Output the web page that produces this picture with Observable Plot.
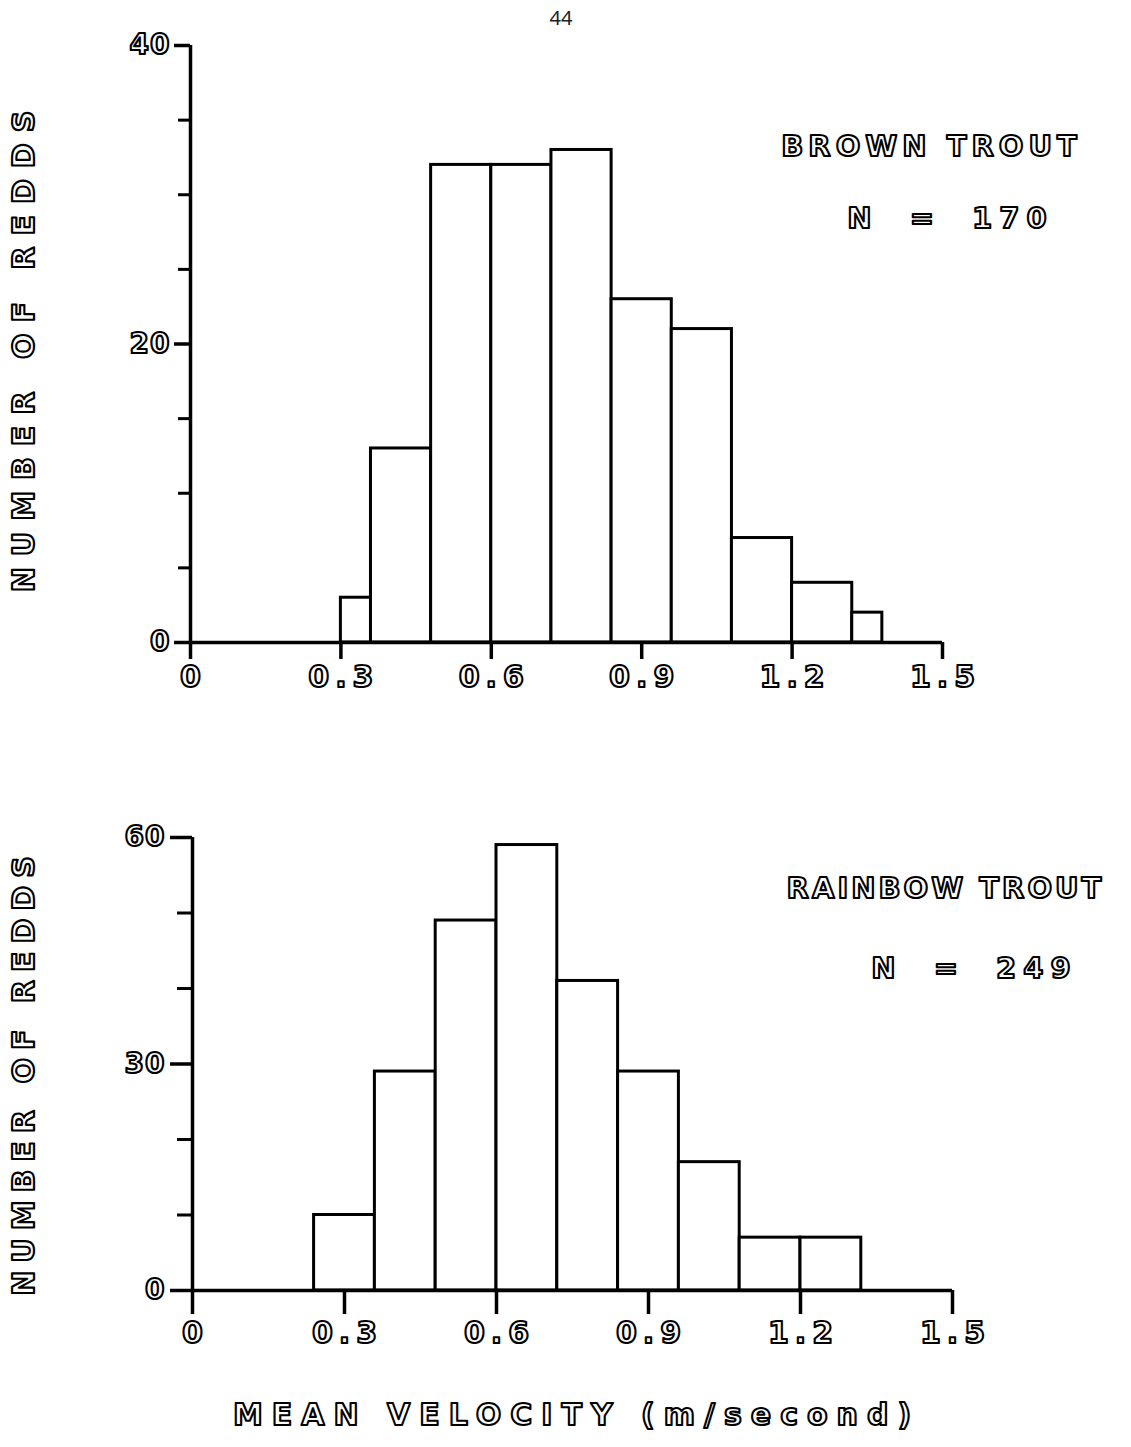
<!DOCTYPE html>
<html><head><meta charset="utf-8">
<script src="https://cdn.jsdelivr.net/npm/d3@7"></script>
<script src="https://cdn.jsdelivr.net/npm/@observablehq/plot@0.6"></script>
<style>
html,body{margin:0;padding:0;background:#fff;}
#page{position:relative;width:1131px;height:1447px;overflow:hidden;background:#fff;}
#pnum{position:absolute;left:0;width:1122px;top:4px;text-align:center;font:20px "Noto Sans",sans-serif;color:#222;z-index:5;}
#top{position:absolute;left:0;top:0;}
#bottom{position:absolute;left:0;top:720px;}
</style></head><body>
<div id="page"><div id="top"></div><div id="bottom"></div><div id="pnum">44</div></div>
<script>
// ---- data ----
const xTicks = [0, 0.3, 0.6, 0.9, 1.2, 1.5];

const brownLo    = [0.30, 0.36, 0.48, 0.60, 0.72, 0.84, 0.96, 1.08, 1.20, 1.32];
const brownHi    = [0.36, 0.48, 0.60, 0.72, 0.84, 0.96, 1.08, 1.20, 1.32, 1.38];
const brownCount = [3, 13, 32, 32, 33, 23, 21, 7, 4, 2];
const brownYTicks = [0, 20, 40];
const brownYMinor = [5, 10, 15, 25, 30, 35];

const rainbowLo    = [0.24, 0.36, 0.48, 0.60, 0.72, 0.84, 0.96, 1.08, 1.20];
const rainbowHi    = [0.36, 0.48, 0.60, 0.72, 0.84, 0.96, 1.08, 1.20, 1.32];
const rainbowCount = [10, 29, 49, 59, 41, 29, 17, 7, 7];
const rainbowYTicks = [0, 30, 60];
const rainbowYMinor = [10, 20, 40, 50];

const yTitle = "NUMBER OF REDDS";
const xTitle = "MEAN VELOCITY (m/second)";
const brownName = "BROWN TROUT", brownN = "N = 170";
const rainbowName = "RAINBOW TROUT", rainbowN = "N = 249";

function chart(cfg) {
  const bins = cfg.lo.map((lo, i) => ({lo, hi: cfg.hi[i], count: cfg.count[i]}));
  const hollow = {fontFamily: "DejaVu Sans", fontWeight: "bold", fill: "white", stroke: "black", strokeWidth: 2.1, lineAnchor: "middle"};
  const marks = [
    Plot.rectY(bins, {x1: "lo", x2: "hi", y: "count", fill: "white", stroke: "black", strokeWidth: 3}),
    Plot.axisX({ticks: xTicks, tickSize: cfg.xTick, strokeWidth: 3.5, fill: "none", tickFormat: () => "", label: null}),
    Plot.axisY({ticks: cfg.yTicks, tickSize: cfg.yTick, strokeWidth: 3.5, fill: "none", tickFormat: () => "", label: null}),
    Plot.axisY({ticks: cfg.yMinor, tickSize: cfg.yMinorTick, strokeWidth: 3, fill: "none", tickFormat: () => "", label: null}),
    Plot.ruleX([0], {strokeWidth: 3.5}),
    Plot.ruleY([0], {strokeWidth: 3.5}),
    Plot.text(xTicks, {x: d => d, text: d => d === 0 ? "0" : d.toFixed(1), frameAnchor: "bottom",
      dy: cfg.xLabDy, dx: 3, fontSize: 30, ...hollow, ariaDescription: "xticklabels"}),
    Plot.text(cfg.yTicks, {y: d => d, text: d => String(d), frameAnchor: "left", textAnchor: "end",
      dx: cfg.yLabDx, fontSize: 28, ...hollow, ariaDescription: "yticklabels"}),
    Plot.text([yTitle], {frameAnchor: "left", rotate: -90, textAnchor: "middle", dx: cfg.yTitleDx, dy: cfg.yTitleDy,
      fontSize: 30, ...hollow, ariaDescription: "ytitle"}),
    Plot.text([cfg.name], {frameAnchor: "top-right", textAnchor: "middle", dx: cfg.nameDx, dy: cfg.nameDy,
      fontSize: 29, ...hollow, ariaDescription: "species"}),
    Plot.text([cfg.n], {frameAnchor: "top-right", textAnchor: "middle", dx: cfg.nDx, dy: cfg.nDy,
      fontSize: 29, ...hollow, ariaDescription: "countn"})
  ];
  if (cfg.xTitle) {
    marks.push(Plot.text([cfg.xTitle], {frameAnchor: "bottom", textAnchor: "middle", dx: 4, dy: cfg.xTitleDy,
      fontSize: 30, ...hollow, ariaDescription: "xtitle"}));
  }
  const svg = Plot.plot({
    width: 1131, height: cfg.height,
    marginLeft: cfg.ml, marginRight: cfg.mr, marginTop: cfg.mt, marginBottom: cfg.mb,
    style: {background: "transparent", overflow: "visible"},
    x: {domain: [0, 1.5]},
    y: {domain: [0, cfg.yMax]},
    marks
  });
  const sel = d3.select(svg);
  const spacing = {xticklabels: 6, yticklabels: 1, ytitle: cfg.yTitleLs, species: cfg.nameLs, countn: 7, xtitle: 9};
  for (const [k, v] of Object.entries(spacing)) {
    sel.selectAll(`g[aria-description="${k}"]`).attr("paint-order", "normal");
    sel.selectAll(`g[aria-description="${k}"] text`)
      .style("paint-order", "normal")
      .style("letter-spacing", v + "px");
  }
  sel.selectAll(`g[aria-description="countn"] text`).style("word-spacing", "14px");
  return svg;
}

document.getElementById("top").appendChild(chart({
  lo: brownLo, hi: brownHi, count: brownCount, yMax: 40,
  yTicks: brownYTicks, yMinor: brownYMinor,
  height: 700, ml: 190, mr: 189, mt: 45, mb: 58,
  xTick: 17, yTick: 16, yMinorTick: 12, xLabDy: 35, yLabDx: -20,
  yTitleDx: -166, yTitleDy: 2, yTitleLs: 11,
  name: brownName, nameDx: -11, nameDy: 101, nameLs: 5,
  n: brownN, nDx: 8, nDy: 173
}));

document.getElementById("bottom").appendChild(chart({
  lo: rainbowLo, hi: rainbowHi, count: rainbowCount, yMax: 60,
  yTicks: rainbowYTicks, yMinor: rainbowYMinor,
  height: 727, ml: 192, mr: 179, mt: 117, mb: 157,
  xTick: 24, yTick: 22, yMinorTick: 15, xLabDy: 43, yLabDx: -27,
  yTitleDx: -168, yTitleDy: 8, yTitleLs: 8,
  name: rainbowName, nameDx: -7, nameDy: 51, nameLs: 3,
  n: rainbowN, nDx: 22, nDy: 131,
  xTitle: xTitle, xTitleDy: 125
}));
</script>
</body></html>
